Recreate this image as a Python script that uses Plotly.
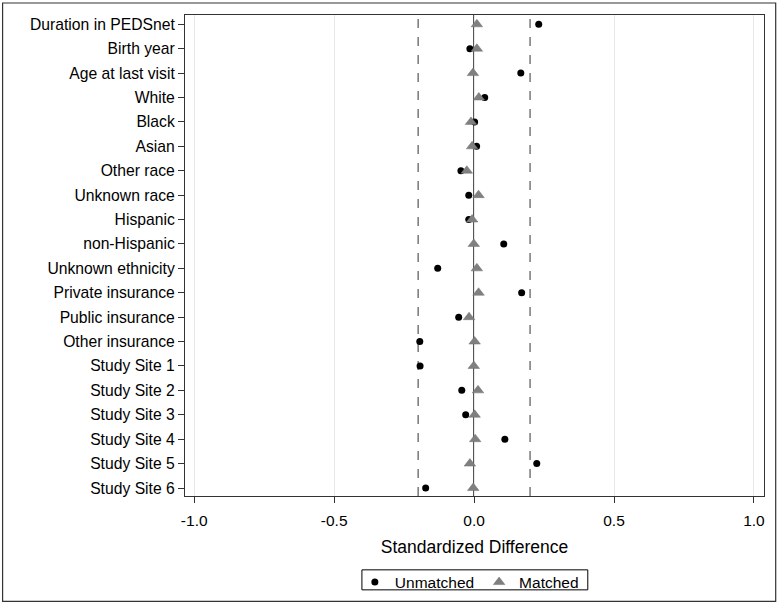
import plotly.graph_objects as go

variables = ["Duration in PEDSnet", "Birth year", "Age at last visit", "White", "Black",
             "Asian", "Other race", "Unknown race", "Hispanic", "non-Hispanic",
             "Unknown ethnicity", "Private insurance", "Public insurance", "Other insurance",
             "Study Site 1", "Study Site 2", "Study Site 3", "Study Site 4", "Study Site 5",
             "Study Site 6"]
unmatched = [0.231, -0.015, 0.167, 0.038, 0.002, 0.009, -0.047, -0.019, -0.019, 0.106,
             -0.130, 0.170, -0.055, -0.194, -0.193, -0.044, -0.030, 0.110, 0.224, -0.173]
matched = [0.010, 0.010, -0.004, 0.017, -0.011, -0.007, -0.026, 0.016, -0.007, -0.001,
           0.010, 0.016, -0.018, 0.002, -0.001, 0.014, 0.002, 0.004, -0.015, -0.003]
x_ticks = [-1.0, -0.5, 0.0, 0.5, 1.0]
x_tick_labels = ["-1.0", "-0.5", "0.0", "0.5", "1.0"]
threshold = 0.2

font = "Liberation Sans, Arial, sans-serif"

L, R, T, B = 185, 764.3, 15, 495.7
W, H = 780, 605

fig = go.Figure()
fig.add_trace(go.Scatter(
    x=unmatched, y=variables, mode="markers", name="Unmatched",
    marker=dict(symbol="circle", size=7, color="black"),
))
fig.add_trace(go.Scatter(
    x=matched, y=variables, mode="markers", name="Matched",
    marker=dict(symbol="triangle-up", size=10, color="#808080",
                line=dict(color="#707070", width=0.5)),
))

# reference lines
for xv, dash, col, w in [(-threshold, "dash", "#333333", 1), (threshold, "dash", "#333333", 1),
                         (0, "solid", "black", 1.5)]:
    fig.add_shape(type="line", xref="x", yref="paper", x0=xv, x1=xv, y0=0, y1=1,
                  line=dict(color=col, width=w, dash=dash), layer="below")

pw, ph = R - L, B - T
# outer border
fig.add_shape(type="rect", xref="paper", yref="paper",
              x0=(2.5 - L) / pw, x1=(776 - L) / pw,
              y0=(B - 601) / ph, y1=(B - 3) / ph,
              line=dict(color="#333333", width=1.2), fillcolor="rgba(0,0,0,0)")
# legend frame
fig.add_shape(type="rect", xref="paper", yref="paper",
              x0=(362 - L) / pw, x1=(588 - L) / pw,
              y0=(B - 589.5) / ph, y1=(B - 569.5) / ph,
              line=dict(color="black", width=1), fillcolor="rgba(0,0,0,0)")

fig.update_layout(
    width=W, height=H,
    margin=dict(l=L, r=W - R, t=T, b=H - B),
    paper_bgcolor="white", plot_bgcolor="white",
    font=dict(family=font, size=16, color="black"),
    showlegend=True,
    legend=dict(orientation="h", x=(469.5 - L) / pw, xanchor="center",
                yref="container", y=(H - 582.5) / H, yanchor="middle",
                borderwidth=0, bgcolor="rgba(0,0,0,0)", font=dict(size=15.5),
                itemwidth=30, tracegroupgap=0),
    xaxis=dict(
        automargin=False,
        range=[-1.033, 1.036], tickvals=x_ticks, ticktext=x_tick_labels,
        showgrid=True, gridcolor="#e8e8e8", gridwidth=1, zeroline=False,
        showline=True, linecolor="#333333", linewidth=1.2, mirror=True,
        ticks="outside", ticklen=6, tickcolor="#333333", ticklabelstandoff=4,
        title=dict(text="Standardized Difference", font=dict(size=17.5), standoff=13),
        tickfont=dict(size=15.5),
    ),
    yaxis=dict(
        automargin=False,
        type="category", categoryarray=variables, range=[19.328, -0.381],
        showgrid=False, zeroline=False,
        showline=True, linecolor="#333333", linewidth=1.2, mirror=True,
        ticks="outside", ticklen=6, tickcolor="#333333",
        tickfont=dict(size=15.7),
    ),
)

fig.write_html("out.html", config={"displayModeBar": False},
               post_script="document.body.style.margin='0';document.body.style.overflow='hidden';")
